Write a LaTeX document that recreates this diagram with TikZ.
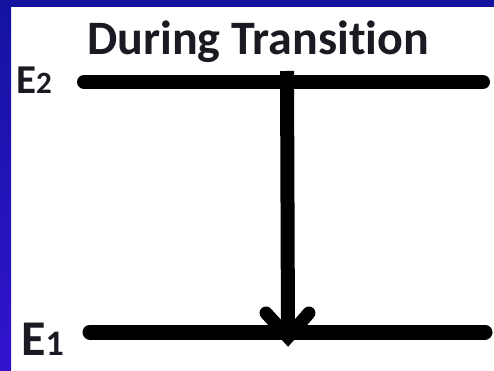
\documentclass[tikz,border=0pt]{standalone}
\usepackage{fontspec}
\setmainfont{Carlito}[Ligatures=NoCommon]
\definecolor{frametop}{HTML}{1313A0}
\definecolor{framebot}{HTML}{3214CF}
\definecolor{ink}{HTML}{1A1A22}
\begin{document}
\begin{tikzpicture}[x=1pt,y=-1pt,
  level/.style={line width=14pt, line cap=round, draw=black},
  shaft/.style={line width=14pt, draw=black},
  barb/.style={line width=13pt, line cap=round, draw=black},
  lbl/.style={inner sep=0pt, anchor=base west, text=ink, font=\bfseries}]
\useasboundingbox (0,0) rectangle (494,371);
\fill[white] (0,0) rectangle (494,371);
% frame
\shade[top color=frametop, bottom color=framebot] (0,0) rectangle (11,371);
\fill[frametop] (0,0) rectangle (494,7);
% title
\node[lbl, font=\bfseries\fontsize{48}{48}\selectfont] (title) at (87,55) {During Transition};
% levels
\coordinate (e2l) at (84,82);
\coordinate (e2r) at (483,82);
\coordinate (e1l) at (90,332);
\coordinate (e1r) at (485,332);
\draw[level] (e2l) -- (e2r);
\draw[level, line width=15pt] (e1l) -- (e1r);
% labels
\node[lbl, font=\bfseries\fontsize{41}{41}\selectfont] (E2) at (16,94) {E{\fontsize{31}{31}\selectfont 2}};
\node[lbl, font=\bfseries\fontsize{50}{50}\selectfont] (E1) at (21,355) {E{\fontsize{36}{36}\selectfont 1}};
% transition arrow
\coordinate (atop) at (287,71);
\coordinate (tip) at (288,337);
\coordinate (bl) at (266,313);
\coordinate (br) at (309,313);
\draw[shaft] (atop) -- (tip);
\draw[barb] (bl) -- (tip) -- (br);
\end{tikzpicture}
\end{document}
